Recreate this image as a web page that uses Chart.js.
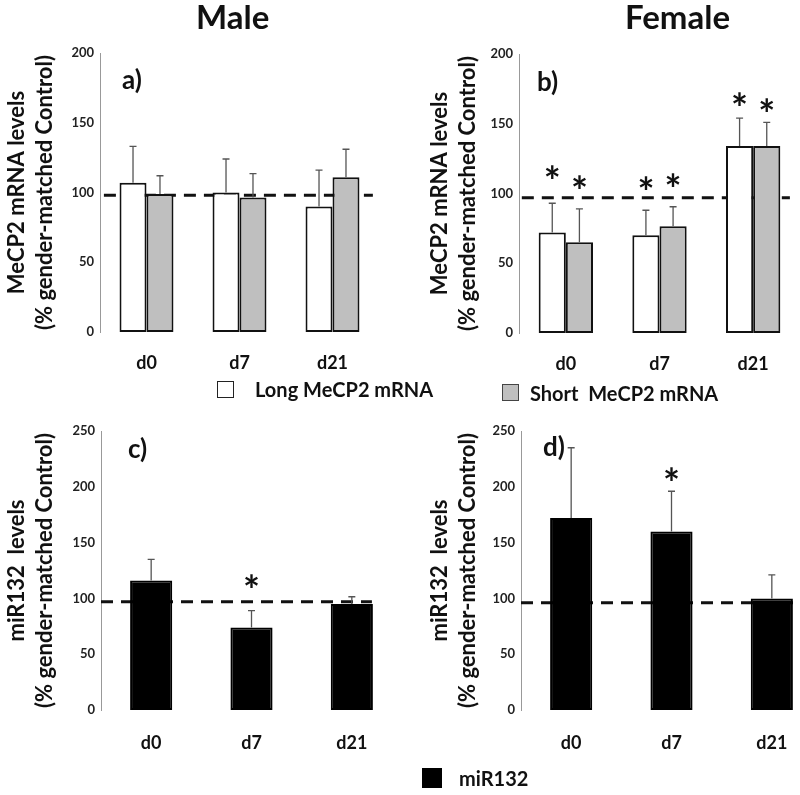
<!DOCTYPE html>
<html>
<head>
<meta charset="utf-8">
<script src="https://cdn.jsdelivr.net/npm/chart.js@4"></script>
<style>
  html, body { margin: 0; padding: 0; background: #fff; overflow: hidden; }
  #page { position: relative; width: 800px; height: 795px; overflow: hidden; font-family: Lato, sans-serif; font-weight: bold; color: #111; }
  #page canvas { position: absolute; }
  .txt { position: absolute; white-space: pre; }
  .title { font-size: 33px; line-height: 33px; }
  .panel { font-size: 26px; line-height: 30px; }
  .leg { font-size: 20px; line-height: 24px; }
  .box { position: absolute; box-sizing: border-box; }
</style>
</head>
<body>
<div id="page">
  <canvas id="chartA" width="400" height="400" style="left:0;top:0"></canvas>
  <canvas id="chartB" width="400" height="400" style="left:400px;top:0"></canvas>
  <canvas id="chartC" width="420" height="395" style="left:0;top:400px"></canvas>
  <canvas id="chartD" width="430" height="395" style="left:400px;top:400px"></canvas>

  <div class="txt title" style="left:196px;top:0px">Male</div>
  <div class="txt title" style="left:625px;top:0px">Female</div>

  <div class="txt panel" style="left:122px;top:64px">a)</div>
  <div class="txt panel" style="left:537px;top:66px">b)</div>
  <div class="txt panel" style="left:128px;top:433px">c)</div>
  <div class="txt panel" style="left:543px;top:431px">d)</div>

  <div class="box" style="left:217px;top:381px;width:17px;height:17px;border:1.5px solid #222;background:#fff"></div>
  <div class="txt leg" style="left:255px;top:377px">Long MeCP2 mRNA</div>
  <div class="box" style="left:502px;top:384px;width:17px;height:17px;border:1.5px solid #444;background:#bfbfbf"></div>
  <div class="txt leg" style="left:530px;top:381px">Short  MeCP2 mRNA</div>

  <div class="box" style="left:422px;top:768px;width:20px;height:20px;background:#000"></div>
  <div class="txt leg" style="left:459px;top:766px">miR132</div>
</div>

<script>
// time points
const categories = ['d0', 'd7', 'd21'];

// MeCP2 mRNA, % of gender-matched control (mean and SEM)
const maleLong = [107, 100, 90];
const maleLongSem = [26, 24, 26];
const maleShort = [99, 96.5, 111];
const maleShortSem = [13, 17, 20];
const femaleLong = [72, 70, 134];
const femaleLongSem = [21, 18, 20];
const femaleShort = [65, 76.5, 134];
const femaleShortSem = [24, 14, 17];

// miR132, % of gender-matched control
const maleMir = [116, 74, 95];
const maleMirSem = [19, 15, 6.5];
const femaleMir = [172, 160, 100];
const femaleMirSem = [63, 36, 21];

// level where the significance asterisks sit (null = no asterisk)
const femaleLongStars = [114, 106, 166];
const femaleShortStars = [107, 108, 162];
const maleMirStars = [null, 114, null];
const femaleMirStars = [null, 210, null];

// y axis ranges and the dashed control line
const mrnaMax = 200;
const mirMax = 250;
const tickStep = 50;
const controlLevels = [98, 97, 97, 96];

const mrnaTitle = ['MeCP2 mRNA levels', '(% gender-matched Control)'];
const mirTitle = ['miR132  levels', '(% gender-matched Control)'];

Chart.defaults.font.family = 'Lato, sans-serif';
Chart.defaults.color = '#111';

// dashed control line, error bars and asterisks
const overlayPlugin = {
    id: 'overlay',
    beforeDatasetsDraw(chart, args, opts) {
        const { ctx, chartArea, scales } = chart;
        const y = scales.y.getPixelForValue(opts.control);
        ctx.save();
        ctx.setLineDash([12, 8]);
        ctx.lineWidth = 3;
        ctx.strokeStyle = '#111';
        ctx.beginPath();
        ctx.moveTo(chartArea.left + opts.span[0] * chartArea.width, y);
        ctx.lineTo(chartArea.left + opts.span[1] * chartArea.width, y);
        ctx.stroke();
        ctx.restore();
    },
    afterDatasetsDraw(chart) {
        const { ctx, scales } = chart;
        ctx.save();
        chart.data.datasets.forEach((ds, i) => {
            const meta = chart.getDatasetMeta(i);
            meta.data.forEach((bar, j) => {
                const top = scales.y.getPixelForValue(ds.data[j] + ds.sem[j]);
                ctx.strokeStyle = '#555';
                ctx.lineWidth = 1.3;
                ctx.beginPath();
                ctx.moveTo(bar.x, bar.y);
                ctx.lineTo(bar.x, top);
                ctx.moveTo(bar.x - 3.5, top);
                ctx.lineTo(bar.x + 3.5, top);
                ctx.stroke();
                if (ds.stars && ds.stars[j] != null) {
                    ctx.fillStyle = '#111';
                    ctx.font = 'bold 40px Lato, sans-serif';
                    ctx.textAlign = 'center';
                    ctx.textBaseline = 'alphabetic';
                    ctx.fillText('*', bar.x, scales.y.getPixelForValue(ds.stars[j]) + 22);
                }
            });
        });
        ctx.restore();
    }
};

function makeChart(id, cfg) {
    return new Chart(document.getElementById(id), {
        type: 'bar',
        data: { labels: categories, datasets: cfg.datasets },
        options: {
            responsive: false,
            animation: false,
            events: [],
            layout: { padding: cfg.padding },
            datasets: {
                bar: {
                    categoryPercentage: cfg.catPct,
                    barPercentage: 1,
                    borderWidth: 2,
                    borderColor: '#111',
                    borderSkipped: false
                }
            },
            plugins: {
                legend: { display: false },
                tooltip: { enabled: false },
                overlay: { control: cfg.control, span: cfg.span }
            },
            scales: {
                x: {
                    grid: { display: false, drawTicks: false },
                    border: { display: false },
                    ticks: { font: { size: 18, weight: 'bold' }, color: '#111', padding: cfg.xPad },
                    afterFit: scale => { scale.height = cfg.xHeight; }
                },
                y: {
                    min: 0,
                    max: cfg.max,
                    grid: { display: false, drawTicks: false },
                    border: { display: true, color: '#999', width: 1 },
                    ticks: { stepSize: tickStep, font: { size: 13, weight: 'bold' }, color: '#222', padding: 6 },
                    title: {
                        display: true,
                        text: cfg.title,
                        font: { size: 22, weight: 'bold', lineHeight: 1.27 },
                        color: '#111',
                        padding: { top: cfg.titlePad, bottom: 0 }
                    },
                    afterFit: scale => { scale.width = cfg.yWidth; }
                }
            }
        },
        plugins: [overlayPlugin]
    });
}

makeChart('chartA', {
    datasets: [
        { data: maleLong, sem: maleLongSem, backgroundColor: '#ffffff' },
        { data: maleShort, sem: maleShortSem, backgroundColor: '#bfbfbf' }
    ],
    padding: { top: 53, right: 21, bottom: 0, left: 0 },
    catPct: 0.58, max: mrnaMax, title: mrnaTitle, titlePad: 3,
    yWidth: 100, xHeight: 68, xPad: 20,
    control: controlLevels[0], span: [0.014, 0.978]
});

makeChart('chartB', {
    datasets: [
        { data: femaleLong, sem: femaleLongSem, stars: femaleLongStars, backgroundColor: '#ffffff' },
        { data: femaleShort, sem: femaleShortSem, stars: femaleShortStars, backgroundColor: '#bfbfbf' }
    ],
    padding: { top: 54, right: 0, bottom: 0, left: 19 },
    catPct: 0.58, max: mrnaMax, title: mrnaTitle, titlePad: 7,
    yWidth: 100, xHeight: 67, xPad: 20,
    control: controlLevels[1], span: [0.01, 0.964]
});

makeChart('chartC', {
    datasets: [
        { data: maleMir, sem: maleMirSem, stars: maleMirStars, backgroundColor: '#000000', borderColor: '#000' }
    ],
    padding: { top: 31, right: 18, bottom: 0, left: 0 },
    catPct: 0.42, max: mirMax, title: mirTitle, titlePad: 3,
    yWidth: 101, xHeight: 85, xPad: 22,
    control: controlLevels[2], span: [0, 0.9]
});

makeChart('chartD', {
    datasets: [
        { data: femaleMir, sem: femaleMirSem, stars: femaleMirStars, backgroundColor: '#000000', borderColor: '#000' }
    ],
    padding: { top: 31, right: 8, bottom: 0, left: 21 },
    catPct: 0.42, max: mirMax, title: mirTitle, titlePad: 5,
    yWidth: 100, xHeight: 85, xPad: 22,
    control: controlLevels[3], span: [0, 1]
});
</script>
</body>
</html>
